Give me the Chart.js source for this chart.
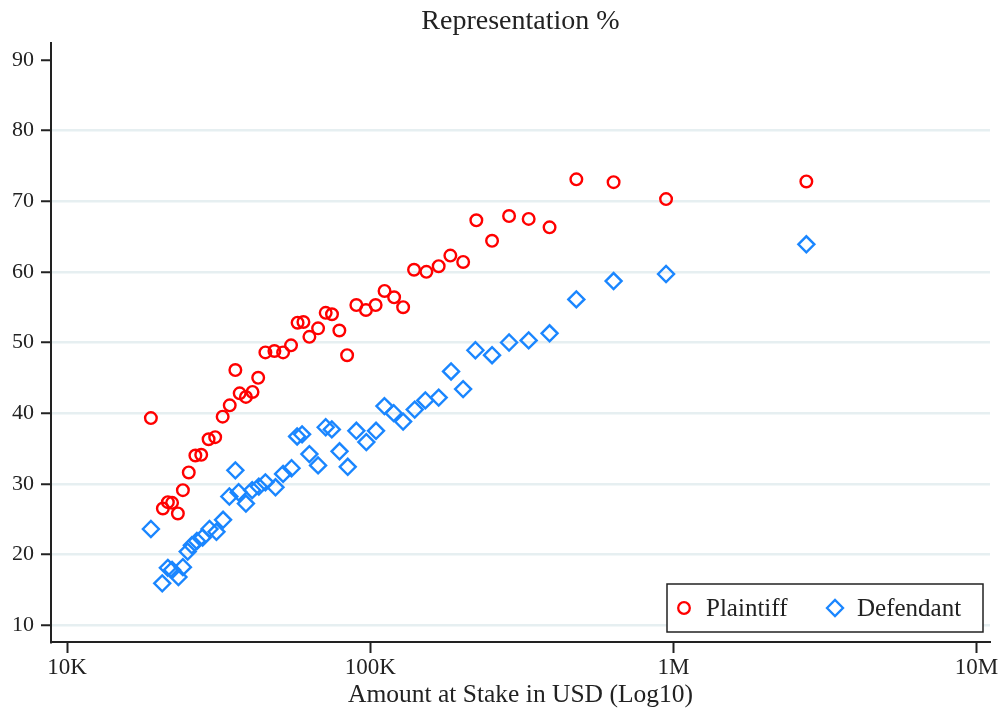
<!DOCTYPE html>
<html>
<head>
<meta charset="utf-8">
<script src="https://cdn.jsdelivr.net/npm/chart.js@4/dist/chart.umd.min.js"></script>
<style>
  body { margin: 0; background: #fff; }
  canvas { display: block; }
</style>
</head>
<body>
<canvas id="chart" width="1001" height="715"></canvas>
<script>
// amount at stake (USD) and representation share (%)
var plaintiffAmount = [18900, 20700, 21500, 22200, 23200, 24100, 25200, 26500, 27700, 29300,
  30800, 32600, 34400, 35900, 37100, 38900, 40900, 42700, 45100, 48300,
  51600, 54800, 57600, 60200, 63000, 67300, 71300, 74800, 79100, 83900,
  90000, 96800, 104200, 111500, 119900, 128400, 139500, 153200, 168200, 183800,
  202600, 223900, 252300, 287100, 333200, 390500, 478600, 635100, 946000, 2746000];
var plaintiffShare = [39.3, 26.5, 27.4, 27.3, 25.8, 29.1, 31.6, 34.0, 34.1, 36.3,
  36.6, 39.5, 41.1, 46.1, 42.8, 42.3, 43.0, 45.0, 48.6, 48.8,
  48.6, 49.6, 52.8, 52.9, 50.8, 52.0, 54.2, 54.0, 51.7, 48.2,
  55.3, 54.6, 55.3, 57.3, 56.4, 55.0, 60.3, 60.0, 60.8, 62.3,
  61.4, 67.3, 64.4, 67.9, 67.5, 66.3, 73.1, 72.7, 70.3, 72.8];

var defendantAmount = [18900, 20600, 21500, 22200, 23300, 24100, 25000, 25800, 26800, 28000,
  29500, 31100, 32700, 34300, 35900, 36800, 38900, 40800, 42900, 45100,
  48700, 51600, 55000, 57400, 59600, 63000, 67300, 71300, 74700, 79200,
  84300, 90000, 97100, 104500, 111400, 119500, 128400, 140200, 152000, 168200,
  184800, 202500, 222300, 252300, 287100, 333200, 390500, 478600, 635100, 946000, 2746000];
var defendantShare = [23.6, 15.9, 18.1, 17.8, 16.8, 18.2, 20.4, 21.3, 21.9, 22.4,
  23.6, 23.2, 24.9, 28.2, 31.9, 28.8, 27.2, 29.1, 29.6, 30.2,
  29.5, 31.4, 32.2, 36.7, 37.0, 34.2, 32.6, 38.0, 37.7, 34.6,
  32.4, 37.5, 35.9, 37.5, 41.0, 40.0, 38.8, 40.5, 41.8, 42.2,
  45.9, 43.4, 48.9, 48.2, 50.0, 50.3, 51.3, 56.1, 58.7, 59.7, 63.9];

var xTicks = [1e4, 1e5, 1e6, 1e7];
var xTickLabels = ['10K', '100K', '1M', '10M'];
var yTicks = [10, 20, 30, 40, 50, 60, 70, 80, 90];

var seriesNames = ['Plaintiff', 'Defendant'];
var red = '#ff0000';
var blue = '#1a86ff';
var ink = '#222222';
var serif = "'Liberation Serif', 'DejaVu Serif', serif";

function toPoints(xs, ys) {
  return xs.map(function (x, i) { return { x: x, y: ys[i] }; });
}

// title over the middle of the plot area
var titlePlugin = {
  id: 'plotTitle',
  afterDraw: function (chart) {
    var ctx = chart.ctx, a = chart.chartArea;
    ctx.save();
    ctx.fillStyle = ink;
    ctx.font = '28px ' + serif;
    ctx.textAlign = 'center';
    ctx.textBaseline = 'middle';
    ctx.fillText('Representation %', (a.left + a.right) / 2, 22);
    ctx.restore();
  }
};

// boxed legend in the lower right corner of the plot
var boxLegend = {
  id: 'boxLegend',
  afterDraw: function (chart) {
    var ctx = chart.ctx, a = chart.chartArea;
    var right = a.right - 7, bottom = a.bottom - 10;
    var left = right - 316, top = bottom - 48;
    var cy = (top + bottom) / 2;
    ctx.save();
    ctx.fillStyle = '#fff';
    ctx.fillRect(left, top, right - left, bottom - top);
    ctx.strokeStyle = ink;
    ctx.lineWidth = 1.5;
    ctx.strokeRect(left, top, right - left, bottom - top);

    // circle
    ctx.lineWidth = 2.3;
    ctx.strokeStyle = red;
    ctx.beginPath();
    ctx.arc(left + 17, cy, 5.8, 0, Math.PI * 2);
    ctx.stroke();
    // diamond
    var dx = left + 168, r = 8;
    ctx.strokeStyle = blue;
    ctx.beginPath();
    ctx.moveTo(dx - r, cy);
    ctx.lineTo(dx, cy - r);
    ctx.lineTo(dx + r, cy);
    ctx.lineTo(dx, cy + r);
    ctx.closePath();
    ctx.stroke();

    ctx.fillStyle = ink;
    ctx.font = '25px ' + serif;
    ctx.textAlign = 'left';
    ctx.textBaseline = 'middle';
    ctx.fillText(seriesNames[0], left + 39, cy + 1);
    ctx.fillText(seriesNames[1], left + 190, cy + 1);
    ctx.restore();
  }
};

var chart = new Chart(document.getElementById('chart'), {
  type: 'scatter',
  data: {
    datasets: [
      {
        label: seriesNames[0],
        data: toPoints(plaintiffAmount, plaintiffShare),
        pointStyle: 'circle',
        pointRadius: 5.8,
        pointBorderWidth: 2.4,
        borderColor: red,
        backgroundColor: 'rgba(0,0,0,0)'
      },
      {
        label: seriesNames[1],
        data: toPoints(defendantAmount, defendantShare),
        pointStyle: 'rectRot',
        pointRadius: 8,
        pointBorderWidth: 2.4,
        borderColor: blue,
        backgroundColor: 'rgba(0,0,0,0)'
      }
    ]
  },
  options: {
    responsive: false,
    animation: false,
    layout: { padding: { top: 43, right: 11, left: 0, bottom: 0 } },
    plugins: {
      legend: { display: false },
      title: { display: false },
      tooltip: { enabled: false }
    },
    scales: {
      x: {
        type: 'logarithmic',
        min: 8850,
        max: 11080000,
        afterBuildTicks: function (scale) {
          scale.ticks = xTicks.map(function (v) { return { value: v }; });
        },
        afterFit: function (scale) { scale.height = 73; },
        ticks: {
          color: ink,
          font: { family: serif, size: 23 },
          padding: 1,
          maxRotation: 0,
          autoSkip: false,
          callback: function (v) {
            var i = xTicks.indexOf(v);
            return i >= 0 ? xTickLabels[i] : '';
          }
        },
        grid: {
          drawOnChartArea: false,
          drawTicks: true,
          tickLength: 11,
          tickColor: ink,
          tickWidth: 2
        },
        border: { display: true, color: ink, width: 2 },
        title: {
          display: true,
          text: 'Amount at Stake in USD (Log10)',
          color: ink,
          font: { family: serif, size: 25.5 },
          padding: { top: 0, bottom: 4 }
        }
      },
      y: {
        min: 7.6,
        max: 92.4,
        afterBuildTicks: function (scale) {
          scale.ticks = yTicks.map(function (v) { return { value: v }; });
        },
        afterFit: function (scale) { scale.width = 51; },
        ticks: {
          color: ink,
          font: { family: serif, size: 22 },
          padding: 7
        },
        grid: {
          color: function (c) {
            return c.tick && c.tick.value === 90 ? 'rgba(0,0,0,0)' : '#e6eff1';
          },
          lineWidth: 2.5,
          drawTicks: true,
          tickLength: 10,
          tickColor: ink,
          tickWidth: 2
        },
        border: { display: true, color: ink, width: 2 }
      }
    }
  },
  plugins: [titlePlugin, boxLegend]
});
</script>
</body>
</html>
